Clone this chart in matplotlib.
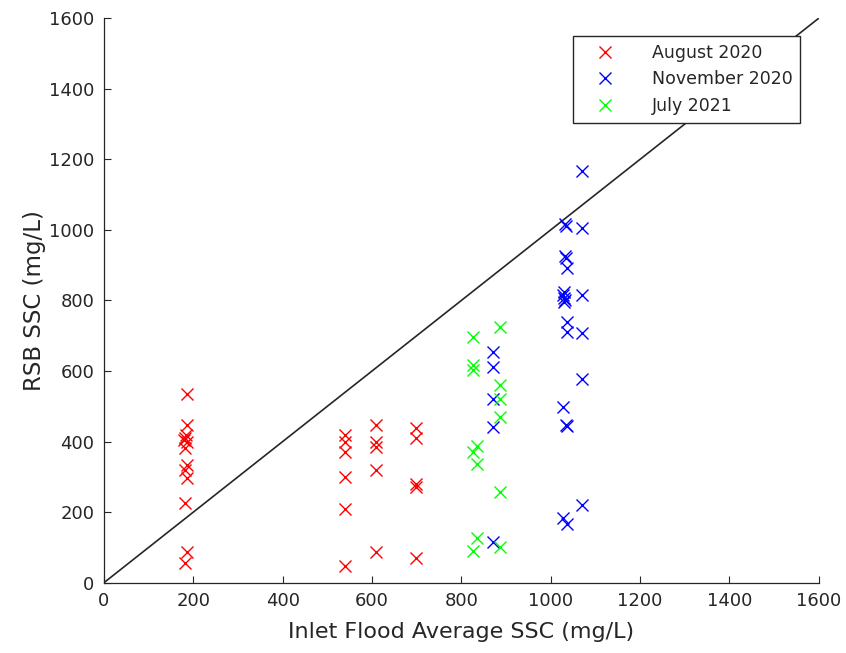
import matplotlib
matplotlib.use("Agg")
import matplotlib.pyplot as plt

plt.rcParams['font.family'] = ['DejaVu Sans']

# Inlet flood average SSC (x) vs RSB SSC (y), mg/L
aug2020_x = [186, 186, 183, 182, 180, 186, 181, 186, 181, 186, 182, 186, 182,
             540, 540, 540, 540, 540, 540,
             610, 610, 610, 610, 610,
             698, 698, 698, 698, 698]
aug2020_y = [535, 447, 420, 410, 405, 400, 382, 334, 319, 297, 226, 88, 56,
             420, 400, 370, 300, 210, 48,
             447, 400, 385, 319, 88,
             438, 410, 280, 270, 69]

nov2020_x = [871, 871, 871, 871, 871,
             1071, 1032, 1035, 1071, 1033, 1035, 1036,
             1030, 1027, 1030, 1032, 1029, 1071,
             1037, 1037, 1071, 1071, 1027, 1034, 1037,
             1071, 1027, 1037]
nov2020_y = [655, 612, 520, 440, 114,
             1168, 1016, 1010, 1005, 926, 920, 891,
             825, 815, 808, 800, 795, 815,
             740, 711, 709, 577, 497, 447, 445,
             220, 183, 166]

jul2021_x = [886, 827, 827, 827, 886, 886, 886, 834, 827, 834, 886, 834, 827, 886]
jul2021_y = [726, 697, 617, 603, 560, 520, 469, 387, 371, 336, 256, 126, 90, 100]

series_labels = ['August 2020', 'November 2020', 'July 2021']
series_colors = ['#ff0000', '#0000ff', '#00ff00']

axis_max = 1600
ticks = list(range(0, 1601, 200))

fig = plt.figure(figsize=(8.46, 6.53), dpi=100)
ax = fig.add_axes([0.1229, 0.1077, 0.8448, 0.8643])

axc = '#262626'
for xs, ys, lab, col in zip([aug2020_x, nov2020_x, jul2021_x],
                            [aug2020_y, nov2020_y, jul2021_y],
                            series_labels, series_colors):
    ax.plot(xs, ys, linestyle='none', marker='x', markersize=8.5,
            markeredgewidth=1.0, color=col, label=lab)

# 1:1 reference line
ax.plot([0, axis_max], [0, axis_max], color='#262626', linewidth=1.2, zorder=1)

ax.set_xlim(0, axis_max)
ax.set_ylim(0, axis_max)
ax.set_xticks(ticks)
ax.set_yticks(ticks)
ax.tick_params(direction='in', length=5, width=0.8, colors=axc,
               labelsize=13, pad=7, labelcolor=axc)
for s in ['top', 'right']:
    ax.spines[s].set_visible(False)
for s in ['left', 'bottom']:
    ax.spines[s].set_color(axc)
    ax.spines[s].set_linewidth(0.9)

ax.set_xlabel('Inlet Flood Average SSC (mg/L)', fontsize=16, color=axc, labelpad=8)
ax.set_ylabel('RSB SSC (mg/L)', fontsize=16.5, color=axc, labelpad=2)

leg = ax.legend(loc='upper right', bbox_to_anchor=(0.974, 0.969),
                fontsize=12.5, frameon=True, fancybox=False,
                borderpad=0.45, handletextpad=1.3, labelspacing=0.5,
                handlelength=2.8, borderaxespad=0)
leg.get_frame().set_edgecolor('#262626')
leg.get_frame().set_linewidth(1.0)
leg.get_frame().set_alpha(1)
for t in leg.get_texts():
    t.set_color(axc)

fig.savefig('out.png', dpi=100, facecolor='white')
